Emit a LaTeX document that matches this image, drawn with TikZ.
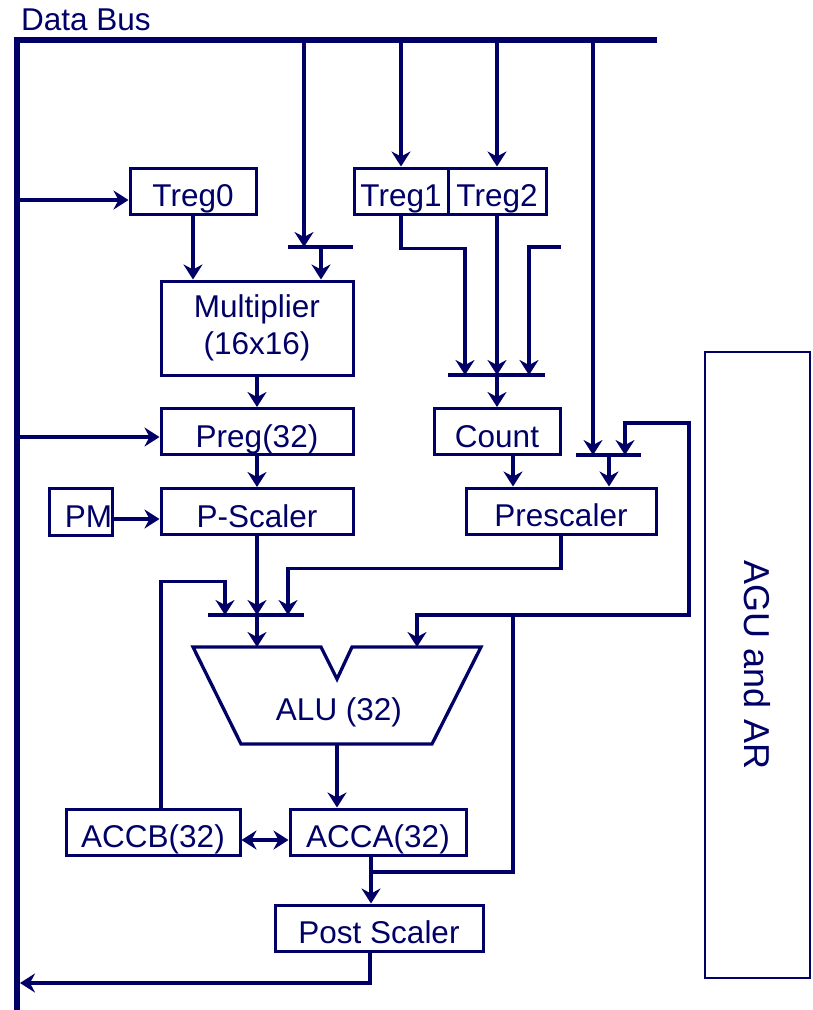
\documentclass[tikz,border=0pt]{standalone}
\usepackage{fontspec}
\setmainfont{Liberation Sans}
\usetikzlibrary{arrows.meta, positioning}
\definecolor{busblue}{RGB}{0,0,102}

\begin{document}
\begin{tikzpicture}[x=1pt, y=-1pt, line join=miter,
    every node/.style={text=busblue, font=\fontsize{31.5}{37}\selectfont},
    reg/.style={draw=busblue, line width=3pt, minimum height=46pt, inner sep=0pt, text height=31pt, text depth=0pt},
    wire/.style={draw=busblue, line width=3.3pt},
    arr/.style={wire, -{Stealth[length=15pt, width=19pt, inset=5pt]}},
    darr/.style={wire, {Stealth[length=15pt, width=19pt, inset=5pt]}-{Stealth[length=15pt, width=19pt, inset=5pt]}},
    bar/.style={draw=busblue, line width=3.6pt},
    bus/.style={draw=busblue, line width=6pt}]
    \useasboundingbox (0,0) rectangle (812,1010);

    % data bus
    \node[anchor=base west, inner sep=0pt] (dbus) at (21,30) {Data Bus};
    \draw[bus] (17,1010) -- (17,40) -- (657,40);
    \coordinate (busL) at (17,40);
    \coordinate (busret) at (20,983);
    \coordinate (tapA) at (304,40);
    \coordinate (tapB) at (593,40);

    % registers
    \node[reg, minimum width=126pt] (treg0) at (193,191) {Treg0};
    \node[reg, minimum width=94pt] (treg1) at (401,191) {Treg1};
    \node[reg, minimum width=98pt] (treg2) at (497,191) {Treg2};
    \node[draw=busblue, line width=3pt, minimum width=192pt, minimum height=94pt, align=center] (mult) at (257,328) {Multiplier\\(16x16)};
    \node[reg, minimum width=192pt] (preg) at (257,431.5) {Preg(32)};
    \node[reg, minimum width=126pt] (count) at (497,431.5) {Count};
    \node[reg, minimum height=47pt, text width=63pt, align=right] (pm) at (80.5,511.5) {PM};
    \node[reg, minimum width=192pt] (pscal) at (257,511.5) {P-Scaler};
    \node[reg, minimum width=190pt] (presc) at (561,511) {Prescaler};
    \node[reg, minimum width=174pt] (accb) at (153,832) {ACCB(32)};
    \node[reg, minimum width=176pt] (acca) at (378,832) {ACCA(32)};
    \node[reg, minimum width=208pt] (post) at (379,928) {Post Scaler};
    \node[draw=busblue, line width=2pt, rotate=-90, minimum width=626pt, minimum height=105pt, font=\fontsize{36}{40}\selectfont] (agu) at (757.5,665) {AGU and AR};

    % ALU
    \coordinate (aluNW) at (193,647);
    \coordinate (aluB) at (417,647);
    \coordinate (aluout) at (337,744);
    \draw[wire] (aluNW) -- (321,647) -- (337,679) -- (352,647) -- (481,647) -- (432,744) -- (241,744) -- cycle;
    \node[anchor=base] (alu) at (339,720) {ALU (32)};

    % mux bars
    \coordinate (mux1) at (321,247);
    \coordinate (mux2) at (497,375);
    \coordinate (mux3) at (609,455);
    \coordinate (mux4) at (257,615);
    \coordinate (spare) at (561,247);
    \coordinate (fb) at (513,615);
    \coordinate (acco) at (371,872);
    \draw[bar] (mux1) +(-33,0) -- +(32,0);
    \draw[bar] (mux2) +(-49,0) -- +(48,0);
    \draw[bar] (mux3) +(-33,0) -- +(32,0);
    \draw[bar] (mux4) +(-49,0) -- +(47,0);

    % bus to registers
    \coordinate (in0) at ([yshift=-9pt]treg0.west);
    \coordinate (inP) at ([yshift=-5.5pt]preg.west);
    \coordinate (inS) at ([yshift=-7.5pt]pscal.west);
    \draw[arr] (busL |- in0) -- (in0);
    \draw[arr] (busL |- inP) -- (inP);
    \draw[arr] (treg1.north |- busL) -- (treg1.north);
    \draw[arr] (treg2.north |- busL) -- (treg2.north);
    \draw[arr] (tapA) -- (tapA |- mux1);
    \draw[arr] (tapB) -- (tapB |- mux3);

    % multiplier path
    \draw[arr] (treg0) -- (treg0 |- mult.north);
    \draw[arr] (mux1) -- (mux1 |- mult.north);
    \draw[arr] (mult) -- (preg);
    \draw[arr] (preg) -- (pscal);
    \draw[arr] (pm.east |- inS) -- (inS);

    % shift count path
    \draw[arr] (treg1.south) -- ++(0,33) -| ([xshift=-32pt]mux2);
    \draw[arr] (treg2) -- (mux2);
    \draw[arr] (spare) -| ([xshift=32pt]mux2);
    \draw[arr] (mux2) -- (mux2 |- count.north);
    \coordinate (cnt) at ([xshift=16pt]count.south);
    \draw[arr] (cnt) -- (cnt |- presc.north);
    \draw[arr] (mux3) -- (mux3 |- presc.north);

    % ALU inputs
    \draw[arr] (presc.south) -- ++(0,33) -| ([xshift=31pt]mux4);
    \draw[arr] (pscal.south) -- (mux4);
    \draw[arr] ([xshift=8pt]accb.north) -- ++(0,-226) -| ([xshift=-32pt]mux4);
    \draw[arr] (mux4) -- (mux4 |- aluNW);
    \draw[arr] (fb) -| (aluB);

    % accumulators and feedback
    \draw[arr] (aluout) -- (aluout |- acca.north);
    \coordinate (ab) at ([yshift=-8pt]accb.east);
    \draw[darr] (ab) -- (ab -| acca.west);
    \draw[arr] (acca.south -| acco) -- (acco |- post.north);
    \draw[wire] (acco) -| (fb);
    \draw[arr] (fb) -- ++(176,0) -- ++(0,-192) -| ([xshift=16pt]mux3);
    \coordinate (pout) at ([xshift=-9pt]post.south);
    \draw[arr] (pout) |- (busret);
\end{tikzpicture}
\end{document}
